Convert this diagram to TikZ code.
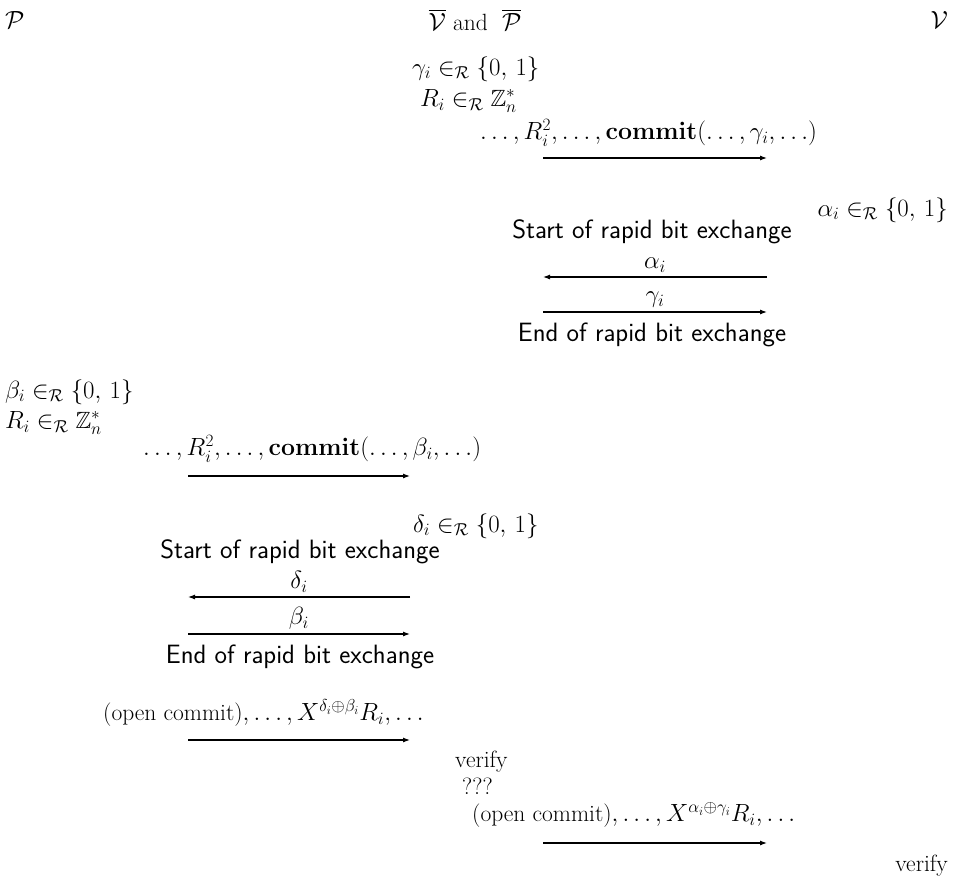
\documentclass[tikz,border=0pt]{standalone}
\usepackage{amsmath,amssymb}
\usetikzlibrary{arrows.meta}
\begin{document}
\begin{tikzpicture}[
    x=1pt, y=-1pt,
    font=\fontsize{23.5}{28}\selectfont,
    txt/.style={inner sep=0pt, anchor=west},
    sans/.style={inner sep=0pt, font=\fontsize{26.5}{31}\selectfont\sffamily},
    msg/.style={-{Latex[length=7pt,width=5pt]}, line width=1.1pt},
    bitlbl/.style={midway, above=4pt, inner sep=0pt},
]
\useasboundingbox (0,0) rectangle (954,879);

% 参与方
\node[txt] (P) at (5,20) {$\mathcal{P}$};
\node[inner sep=0pt] (VP) at (475,20) {$\overline{\mathcal{V}}$ and\ \ $\overline{\mathcal{P}}$};
\node[inner sep=0pt, anchor=east] (V) at (948,20) {$\mathcal{V}$};

% ---- 第一轮：VP 与 V ----
\node[txt] (gam) at (412,69) {$\gamma_i \in_{\mathcal{R}} \{0,\,1\}$};
\node[txt] (Ra) at (420,101) {$R_i \in_{\mathcal{R}} \mathbb{Z}_n^*$};
\node[txt] (ma) at (480,133) {$\ldots, R_i^2, \ldots, \mathbf{commit}(\ldots, \gamma_i, \ldots)$};
\coordinate (a1) at (543,158);
\coordinate (b1) at (767,158);
\draw[msg] (a1) -- (b1);

\node[inner sep=0pt, anchor=east] (alp) at (948,210) {$\alpha_i \in_{\mathcal{R}} \{0,\,1\}$};
\node[sans] (sa) at (652,232) {Start of rapid bit exchange};
\coordinate (a2) at (543,277);
\coordinate (b2) at (767,277);
\draw[msg] (b2) -- (a2) node[bitlbl] {$\alpha_i$};
\coordinate (a3) at (543,312);
\coordinate (b3) at (767,312);
\draw[msg] (a3) -- (b3) node[bitlbl] {$\gamma_i$};
\node[sans] (ea) at (652,335) {End of rapid bit exchange};

% ---- 第二轮：P 与 VP ----
\node[txt] (bet) at (5,392) {$\beta_i \in_{\mathcal{R}} \{0,\,1\}$};
\node[txt] (Rb) at (5,423) {$R_i \in_{\mathcal{R}} \mathbb{Z}_n^*$};
\node[txt] (mb) at (143,449) {$\ldots, R_i^2, \ldots, \mathbf{commit}(\ldots, \beta_i, \ldots)$};
\coordinate (c1) at (188,476);
\coordinate (d1) at (410,476);
\draw[msg] (c1) -- (d1);

\node[txt] (del) at (413,526) {$\delta_i \in_{\mathcal{R}} \{0,\,1\}$};
\node[sans] (sb) at (300,552) {Start of rapid bit exchange};
\coordinate (c2) at (188,597);
\coordinate (d2) at (410,597);
\draw[msg] (d2) -- (c2) node[bitlbl] {$\delta_i$};
\coordinate (c3) at (188,634);
\coordinate (d3) at (410,634);
\draw[msg] (c3) -- (d3) node[bitlbl] {$\beta_i$};
\node[sans] (eb) at (300,657) {End of rapid bit exchange};

% ---- 打开承诺 ----
\node[txt] (ob) at (103,713) {(open commit)$, \ldots, X^{\delta_i \oplus \beta_i} R_i, \ldots$};
\coordinate (c4) at (188,740);
\coordinate (d4) at (410,740);
\draw[msg] (c4) -- (d4);
\node[txt] (vf1) at (455,762) {verify};
\node[txt] (qq) at (462,786) {???};
\node[txt] (oa) at (472,815) {(open commit)$, \ldots, X^{\alpha_i \oplus \gamma_i} R_i, \ldots$};
\coordinate (a4) at (543,843);
\coordinate (b4) at (767,843);
\draw[msg] (a4) -- (b4);
\node[inner sep=0pt, anchor=east] (vf2) at (948,866) {verify};

\end{tikzpicture}
\end{document}
